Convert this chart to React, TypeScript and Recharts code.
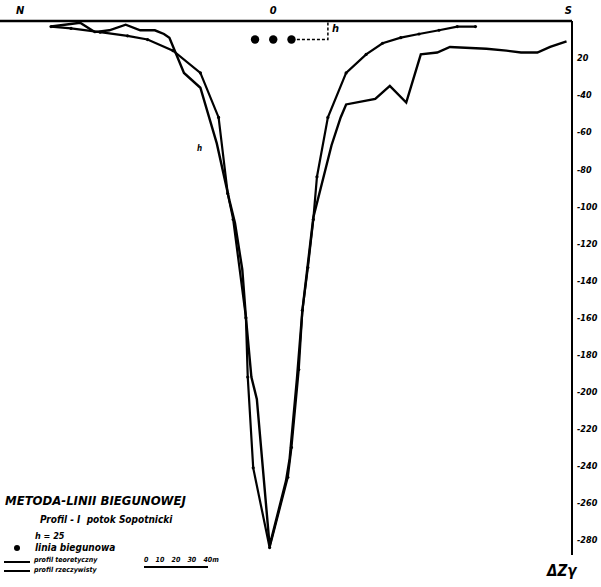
import React from "react";
import { ComposedChart, Line, Scatter, XAxis, YAxis } from "recharts";

// profile positions in metres (x) and ΔZ in gammas (y)
const theoreticalProfile = [
  { x: -122, y: -3 },
  { x: -111, y: -4 },
  { x: -95, y: -6 },
  { x: -80, y: -8 },
  { x: -69, y: -10 },
  { x: -55, y: -16 },
  { x: -40, y: -28 },
  { x: -30, y: -52 },
  { x: -25, y: -93 },
  { x: -22, y: -107 },
  { x: -15, y: -160 },
  { x: -14, y: -192 },
  { x: -11, y: -241 },
  { x: -2, y: -284 },
  { x: 8, y: -246 },
  { x: 10, y: -230 },
  { x: 14, y: -188 },
  { x: 16, y: -156 },
  { x: 19, y: -133 },
  { x: 22, y: -107 },
  { x: 24, y: -84 },
  { x: 30, y: -52 },
  { x: 40, y: -28 },
  { x: 51, y: -18 },
  { x: 60, y: -12 },
  { x: 70, y: -9 },
  { x: 80, y: -7 },
  { x: 91, y: -5 },
  { x: 101, y: -3 },
  { x: 111, y: -3 },
];

const actualProfile = [
  { x: -122, y: -3 },
  { x: -106, y: -1 },
  { x: -98, y: -6 },
  { x: -90, y: -5 },
  { x: -81, y: -2 },
  { x: -73, y: -5 },
  { x: -65, y: -5 },
  { x: -60, y: -7 },
  { x: -57, y: -9 },
  { x: -49, y: -28 },
  { x: -40, y: -36 },
  { x: -31, y: -66 },
  { x: -24, y: -97 },
  { x: -21, y: -109 },
  { x: -17, y: -134 },
  { x: -15, y: -160 },
  { x: -12, y: -192 },
  { x: -9, y: -204 },
  { x: -2, y: -283 },
  { x: 7, y: -248 },
  { x: 9, y: -236 },
  { x: 13, y: -193 },
  { x: 16, y: -156 },
  { x: 22, y: -106 },
  { x: 32, y: -67 },
  { x: 37, y: -52 },
  { x: 40, y: -45 },
  { x: 56, y: -42 },
  { x: 64, y: -35 },
  { x: 73, y: -44 },
  { x: 81, y: -18 },
  { x: 90, y: -17 },
  { x: 97, y: -14 },
  { x: 117, y: -15 },
  { x: 128, y: -16 },
  { x: 136, y: -17 },
  { x: 145, y: -17 },
  { x: 152, y: -14 },
  { x: 161, y: -11 },
];

const polePoints = [
  { x: -10, y: -10 },
  { x: 0, y: -10 },
  { x: 10, y: -10 },
];

const hMarker = [
  { x: 13, y: -10 },
  { x: 30, y: -10 },
  { x: 30, y: 0 },
];

const xTicks = [-139, 0, 162];
const xTickLabels = ["N", "0", "S"];
const yTicks = [-20, -40, -60, -80, -100, -120, -140, -160, -180, -200, -220, -240, -260, -280];
const yTickLabels = ["20", "-40", "-60", "-80", "-100", "-120", "-140", "-160", "-180", "-200", "-220", "-240", "-260", "-280"];

const font = "'DejaVu Sans Condensed', 'Liberation Sans Narrow', sans-serif";

const note = (left: number, top: number, size: number): React.CSSProperties => ({
  position: "absolute",
  left,
  top,
  fontSize: size,
  fontStyle: "italic",
  fontWeight: "bold",
  fontFamily: font,
  whiteSpace: "nowrap",
  lineHeight: 1,
});

const TheoryDot = (props: any) => {
  const { cx, cy } = props;
  return <circle cx={cx} cy={cy} r={1.6} fill="#000" />;
};

export default function App() {
  return (
    <div style={{ position: "absolute", left: 0, top: 0, width: 601, height: 587, background: "#fff" }}>
      <ComposedChart width={601} height={587} margin={{ top: 0, right: 0, bottom: 32, left: 0 }}>
        <XAxis
          xAxisId={0}
          type="number"
          dataKey="x"
          orientation="top"
          domain={[-150, 164]}
          ticks={xTicks}
          tickFormatter={(v: number) => xTickLabels[xTicks.indexOf(v)]}
          height={21}
          axisLine={{ stroke: "#000", strokeWidth: 2.5 }}
          tickLine={false}
          tickMargin={1}
          tick={{ fill: "#000", fontSize: 11, fontStyle: "italic", fontWeight: "bold", fontFamily: font }}
          allowDataOverflow
        />
        <YAxis
          type="number"
          dataKey="y"
          orientation="right"
          domain={[-288, 0]}
          ticks={yTicks}
          tickFormatter={(v: number) => yTickLabels[yTicks.indexOf(v)]}
          width={29}
          axisLine={{ stroke: "#000", strokeWidth: 2 }}
          tickLine={false}
          tickSize={2}
          tickMargin={3}
          tick={{ fill: "#000", fontSize: 9, fontStyle: "italic", fontWeight: "bold", fontFamily: font, textAnchor: "start" }}
          allowDataOverflow
        />
        <Line
          data={theoreticalProfile}
          dataKey="y"
          type="linear"
          stroke="#000"
          strokeWidth={2.2}
          dot={<TheoryDot />}
          activeDot={false}
          isAnimationActive={false}
        />
        <Line
          data={actualProfile}
          dataKey="y"
          type="linear"
          stroke="#000"
          strokeWidth={2.4}
          dot={false}
          activeDot={false}
          isAnimationActive={false}
        />
        <Line
          data={hMarker}
          dataKey="y"
          type="linear"
          stroke="#000"
          strokeWidth={1.5}
          strokeDasharray="3 2"
          dot={false}
          activeDot={false}
          isAnimationActive={false}
        />
        <Scatter
          data={polePoints}
          dataKey="y"
          fill="#000"
          shape={(p: any) => <circle cx={p.cx} cy={p.cy} r={4.2} fill="#000" />}
          isAnimationActive={false}
        />
      </ComposedChart>

      <div style={note(332, 23, 11)}>h</div>
      <div style={note(197, 145, 8)}>h</div>
      <div style={note(547, 564, 15)}>ΔZγ</div>

      <div style={note(5, 494, 13)}>METODA-LINII BIEGUNOWEJ</div>
      <div style={note(40, 515, 10)}>Profil - I&nbsp; potok Sopotnicki</div>
      <div style={note(35, 532, 9)}>h = 25</div>
      <div style={{ position: "absolute", left: 14, top: 545, width: 6, height: 6, borderRadius: 3, background: "#000" }} />
      <div style={note(35, 543, 10)}>linia biegunowa</div>
      <div style={{ position: "absolute", left: 4, top: 561, width: 26, height: 0, borderTop: "2px solid #000" }} />
      <div style={note(34, 557, 7)}>profil teoretyczny</div>
      <div style={{ position: "absolute", left: 4, top: 570, width: 26, height: 0, borderTop: "2px solid #000" }} />
      <div style={note(34, 567, 7)}>profil rzeczywisty</div>
      <div style={{ ...note(144, 557, 7), wordSpacing: 5 }}>0 10 20 30 40m</div>
      <div style={{ position: "absolute", left: 144, top: 566, width: 64, height: 0, borderTop: "2px solid #000" }} />
    </div>
  );
}
